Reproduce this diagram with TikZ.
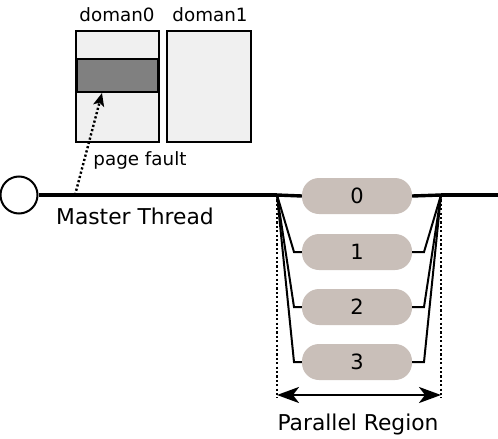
\documentclass[tikz,border=0pt]{standalone}
\usepackage{fontspec}
\setmainfont{DejaVu Sans}
\usetikzlibrary{arrows.meta}
\begin{document}
\begin{tikzpicture}[x=1pt,y=-1pt,
  small/.style={font=\fontsize{18.3}{21}\selectfont, inner sep=0pt},
  big/.style={font=\fontsize{21.8}{25}\selectfont, inner sep=0pt},
  mem/.style={draw=black, line width=2pt, fill=black!6},
  pill/.style={fill=pillc, rounded corners=17pt, minimum width=110pt, minimum height=36pt, inner sep=0pt, font=\fontsize{21}{24}\selectfont},
  thread/.style={line width=2pt},
  dots/.style={line width=2.4pt, dash pattern=on 2.2pt off 2.2pt},
  bighead/.tip={Stealth[length=22pt,width=16pt,inset=6pt]},
]
\definecolor{pillc}{HTML}{C9BFB9}
\useasboundingbox (0,0) rectangle (498,439);
% memory domains
\node[small] (l0) at (117,15) {doman0};
\node[small] (l1) at (210,15) {doman1};
\draw[mem] (76,31) rectangle (159,142);
\draw[mem] (167,31) rectangle (251,142);
\draw[line width=2pt, fill=black!50] (77,59) rectangle (158,92);
\coordinate (page) at (102,93);
% main line
\node[draw, circle, line width=2pt, minimum size=37pt, inner sep=0pt] (start) at (19,195) {};
\coordinate (fork) at (277,195);
\coordinate (join) at (441,195);
\coordinate (lend) at (498,195);
\draw[line width=3.4pt] (start) -- (fork);
\draw[line width=3.4pt] (join) -- (lend);
\coordinate (pfs) at (75,195);
\draw[dots, -{Stealth[length=13pt,width=11pt,inset=3pt]}] (pfs) -- (page);
\node[small] (pf) at (140,160) {page fault};
\node[big] (mt) at (135,216) {Master Thread};
% threads
\node[pill] (p0) at (357,196) {0};
\node[pill] (p1) at (357,252) {1};
\node[pill] (p2) at (357,307) {2};
\node[pill] (p3) at (357,362) {3};
\draw[line width=3.4pt] (fork) -- (p0.west);
\draw[line width=3.4pt] (p0.east) -- (join);
\foreach \i in {1,2,3}{
  \draw[thread] (fork) -- (294,{197+55*(\i-1)+55}) -- (p\i.west);
  \draw[thread] (p\i.east) -- (424,{197+55*(\i-1)+55}) -- (join);
}
% region
\coordinate (rl) at (277,398);
\coordinate (rr) at (441,398);
\draw[dots] (fork) -- (rl);
\draw[dots] (join) -- (rr);
\coordinate (al) at (277,395);
\coordinate (ar) at (441,395);
\draw[line width=2.6pt, bighead-bighead] (al) -- (ar);
\node[big] (pr) at (358,424) {Parallel Region};
\end{tikzpicture}
\end{document}
